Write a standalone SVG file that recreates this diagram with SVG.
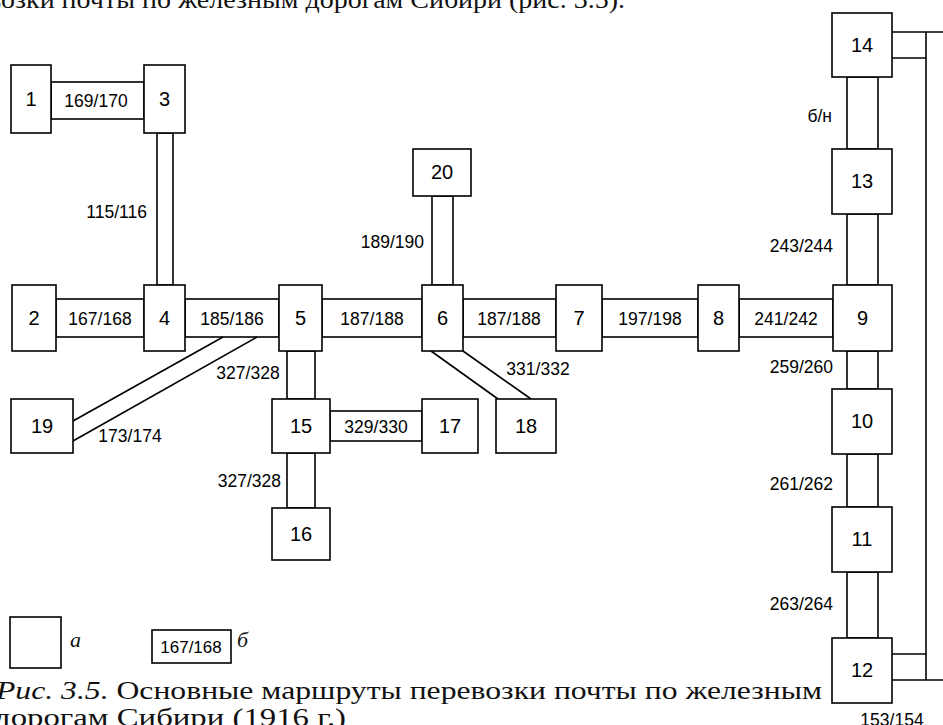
<svg xmlns="http://www.w3.org/2000/svg" width="943" height="725" viewBox="0 0 943 725">
<style>
.b{fill:#fff;stroke:#000;stroke-width:1.6}
.c{fill:#fff;stroke:#000;stroke-width:1.6}
.l{fill:none;stroke:#000;stroke-width:1.6}
.n{font-family:"Liberation Sans",Arial,sans-serif;font-size:20px;text-anchor:middle;fill:#000}
.t{font-family:"Liberation Sans",Arial,sans-serif;font-size:17.5px;text-anchor:middle;fill:#000}
.e{text-anchor:end}
.s{font-family:"Liberation Serif","DejaVu Serif",serif;font-size:25px;fill:#111}
.i{font-style:italic}
</style>
<rect width="943" height="725" fill="#fff"/>
<text class="s" x="-12" y="8" textLength="637" lengthAdjust="spacingAndGlyphs">возки почты по железным дорогам Сибири (рис. 3.5).</text>
<g id="connectors">
<rect class="c" x="51" y="82" width="93" height="37"/>
<rect class="c" x="157" y="133" width="16" height="152"/>
<rect class="c" x="56" y="299" width="88" height="38"/>
<rect class="c" x="185" y="299" width="94" height="38"/>
<rect class="c" x="322" y="299" width="100" height="38"/>
<rect class="c" x="463" y="299" width="93" height="38"/>
<rect class="c" x="602" y="299" width="96" height="38"/>
<rect class="c" x="739" y="299" width="94" height="38"/>
<rect class="c" x="432" y="196" width="21" height="89"/>
<rect class="c" x="287" y="351" width="28" height="48"/>
<rect class="c" x="287" y="453" width="28" height="55"/>
<rect class="c" x="330" y="411" width="92" height="30"/>
<rect class="c" x="847" y="77" width="31" height="72"/>
<rect class="c" x="847" y="214" width="31" height="71"/>
<rect class="c" x="847" y="351" width="31" height="38"/>
<rect class="c" x="847" y="454" width="31" height="53"/>
<rect class="c" x="847" y="572" width="31" height="66"/>
<line class="l" x1="73" y1="421" x2="223" y2="337"/>
<line class="l" x1="73" y1="441" x2="257" y2="337"/>
<line class="l" x1="431" y1="351" x2="498" y2="399"/>
<line class="l" x1="463" y1="351" x2="531" y2="399"/>
<polyline class="l" points="892,32 943,32"/>
<polyline class="l" points="892,58 926,58"/>
<polyline class="l" points="926,32 926,680"/>
<polyline class="l" points="892,654 926,654"/>
<polyline class="l" points="892,680 943,680"/>
<text class="t" x="96" y="107">169/170</text>
<text class="t e" x="147" y="218">115/116</text>
<text class="t" x="100" y="325">167/168</text>
<text class="t" x="232" y="325">185/186</text>
<text class="t" x="372" y="325">187/188</text>
<text class="t" x="509" y="325">187/188</text>
<text class="t" x="650" y="325">197/198</text>
<text class="t" x="786" y="325">241/242</text>
<text class="t e" x="424" y="248">189/190</text>
<text class="t" x="248" y="379">327/328</text>
<text class="t" x="130" y="442">173/174</text>
<text class="t" x="538" y="375">331/332</text>
<text class="t" x="376" y="433">329/330</text>
<text class="t e" x="281" y="487">327/328</text>
<text class="t e" x="832" y="122">б/н</text>
<text class="t e" x="833" y="252">243/244</text>
<text class="t e" x="833" y="373">259/260</text>
<text class="t e" x="833" y="490">261/262</text>
<text class="t e" x="833" y="610">263/264</text>
<text class="t" x="892" y="726">153/154</text>
</g>
<g id="n1"><rect class="b" x="11" y="65" width="40" height="68"/><text class="n" x="31" y="106">1</text></g>
<g id="n3"><rect class="b" x="144" y="65" width="41" height="68"/><text class="n" x="164.5" y="106">3</text></g>
<g id="n2"><rect class="b" x="12" y="285" width="44" height="66"/><text class="n" x="34" y="325">2</text></g>
<g id="n4"><rect class="b" x="144" y="285" width="41" height="66"/><text class="n" x="164.5" y="325">4</text></g>
<g id="n5"><rect class="b" x="279" y="285" width="43" height="66"/><text class="n" x="300.5" y="325">5</text></g>
<g id="n6"><rect class="b" x="422" y="285" width="41" height="66"/><text class="n" x="442.5" y="325">6</text></g>
<g id="n7"><rect class="b" x="556" y="285" width="46" height="66"/><text class="n" x="579" y="325">7</text></g>
<g id="n8"><rect class="b" x="698" y="285" width="41" height="66"/><text class="n" x="718.5" y="325">8</text></g>
<g id="n9"><rect class="b" x="833" y="285" width="59" height="66"/><text class="n" x="862.5" y="325">9</text></g>
<g id="n20"><rect class="b" x="413" y="149" width="58" height="47"/><text class="n" x="442" y="179">20</text></g>
<g id="n15"><rect class="b" x="272" y="399" width="58" height="54"/><text class="n" x="301" y="433">15</text></g>
<g id="n16"><rect class="b" x="272" y="508" width="58" height="52"/><text class="n" x="301" y="541">16</text></g>
<g id="n17"><rect class="b" x="422" y="399" width="56" height="54"/><text class="n" x="450" y="433">17</text></g>
<g id="n18"><rect class="b" x="496" y="399" width="60" height="54"/><text class="n" x="526" y="433">18</text></g>
<g id="n19"><rect class="b" x="11" y="399" width="62" height="54"/><text class="n" x="42" y="433">19</text></g>
<g id="n14"><rect class="b" x="832" y="13" width="60" height="64"/><text class="n" x="862" y="52">14</text></g>
<g id="n13"><rect class="b" x="832" y="149" width="60" height="65"/><text class="n" x="862" y="188">13</text></g>
<g id="n10"><rect class="b" x="832" y="389" width="60" height="65"/><text class="n" x="862" y="428">10</text></g>
<g id="n11"><rect class="b" x="832" y="507" width="60" height="65"/><text class="n" x="862" y="546">11</text></g>
<g id="n12"><rect class="b" x="832" y="638" width="60" height="65"/><text class="n" x="862" y="677">12</text></g>
<g id="legend">
<rect class="b" x="10" y="617" width="51" height="51"/>
<text class="s i" x="70" y="647" style="font-size:22px">а</text>
<rect class="b" x="152" y="630" width="79" height="33"/>
<text class="t" x="191" y="653" style="font-size:17px">167/168</text>
<text class="s i" x="237" y="647" style="font-size:22px">б</text>
</g>
<text class="s" x="-4" y="699" textLength="826" lengthAdjust="spacingAndGlyphs"><tspan class="i">Рис. 3.5.</tspan> Основные маршруты перевозки почты по железным</text>
<text class="s" x="-6" y="726" textLength="352" lengthAdjust="spacingAndGlyphs">дорогам Сибири (1916 г.)</text>
</svg>
